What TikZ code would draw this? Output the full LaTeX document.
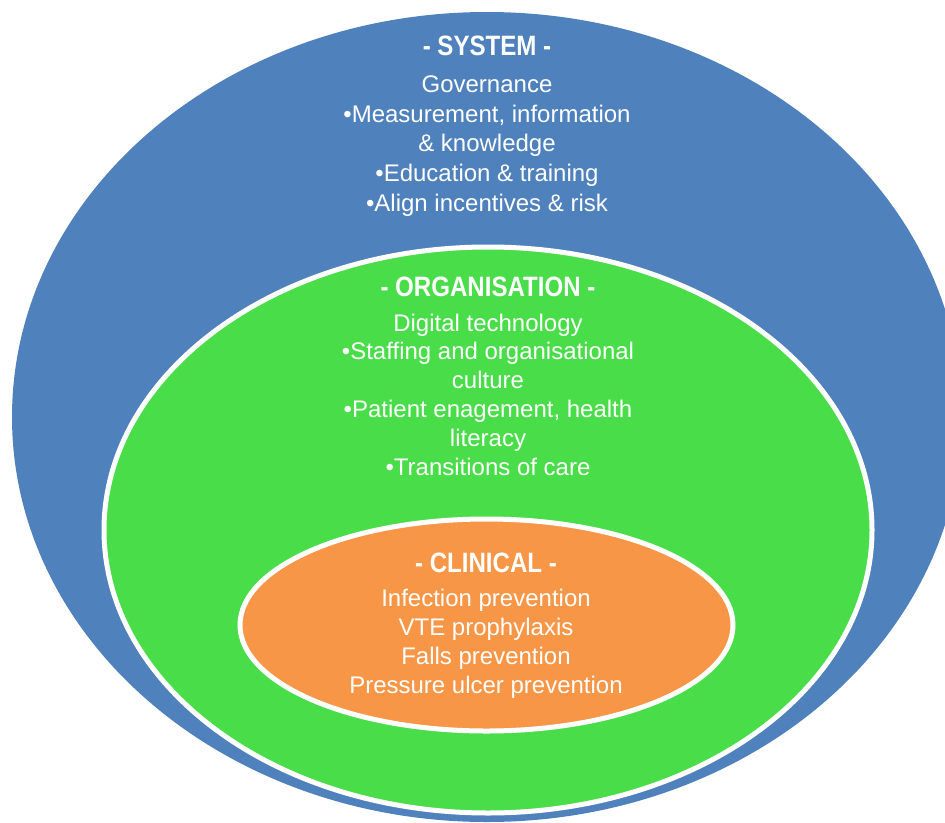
\documentclass[tikz,border=0pt]{standalone}
\usepackage{fontspec}
\setmainfont{Liberation Sans}
\newfontfamily\headfont{Liberation Sans}[FakeStretch=0.86]
\definecolor{Steel Blue}{HTML}{4F81BD}
\definecolor{Lime Green}{HTML}{49DD49}
\definecolor{Tangerine}{HTML}{F79646}
\colorlet{cSystem}{Steel Blue}
\colorlet{cOrg}{Lime Green}
\colorlet{cClinical}{Tangerine}
\usetikzlibrary{shapes.geometric, positioning}
\tikzset{
	layer/.style={
		ellipse,
		inner sep=0pt,
		draw=white,
		line width=5pt
	},
	heading/.style={
		text=white,
		anchor=base,
		inner sep=0pt,
		font=\headfont\bfseries\fontsize{28}{30}\selectfont
	},
	items/.style={
		text=white,
		align=center,
		anchor=base,
		inner sep=0pt,
		font=\fontsize{24}{29.9}\selectfont
	}
}
\begin{document}
\begin{tikzpicture}[x=1pt, y=-1pt]
\useasboundingbox (0,0) rectangle (945,822);
% ---
% nested levels
% ---
\node[layer, draw=none, fill=cSystem, minimum width=950, minimum height=810] at (487,417) (system) {};
\node[layer, fill=cOrg, minimum width=768, minimum height=566] at (488,530) (org) {};
\node[layer, fill=cClinical, minimum width=493, minimum height=212] at (486.5,625) (clinical) {};

% base sits on the last line
\node[heading] at (487,55) (system-head) {- SYSTEM -};
\node[items] at (487,211.7) (system-list) {Governance\\ •Measurement, information\\ \& knowledge\\ •Education \& training\\ •Align incentives \& risk};

\node[heading] at (488,296) (org-head) {- ORGANISATION -};
\node[items, font=\fontsize{24}{28.8}\selectfont] at (488,475) (org-list) {Digital technology\\ •Staffing and organisational\\ culture\\ •Patient enagement, health\\ literacy\\ •Transitions of care};

\node[heading] at (486,572) (clinical-head) {- CLINICAL -};
\node[items, font=\fontsize{24}{28.9}\selectfont] at (486,693.3) (clinical-list) {Infection prevention\\ VTE prophylaxis\\ Falls prevention\\ Pressure ulcer prevention};
\end{tikzpicture}
\end{document}
